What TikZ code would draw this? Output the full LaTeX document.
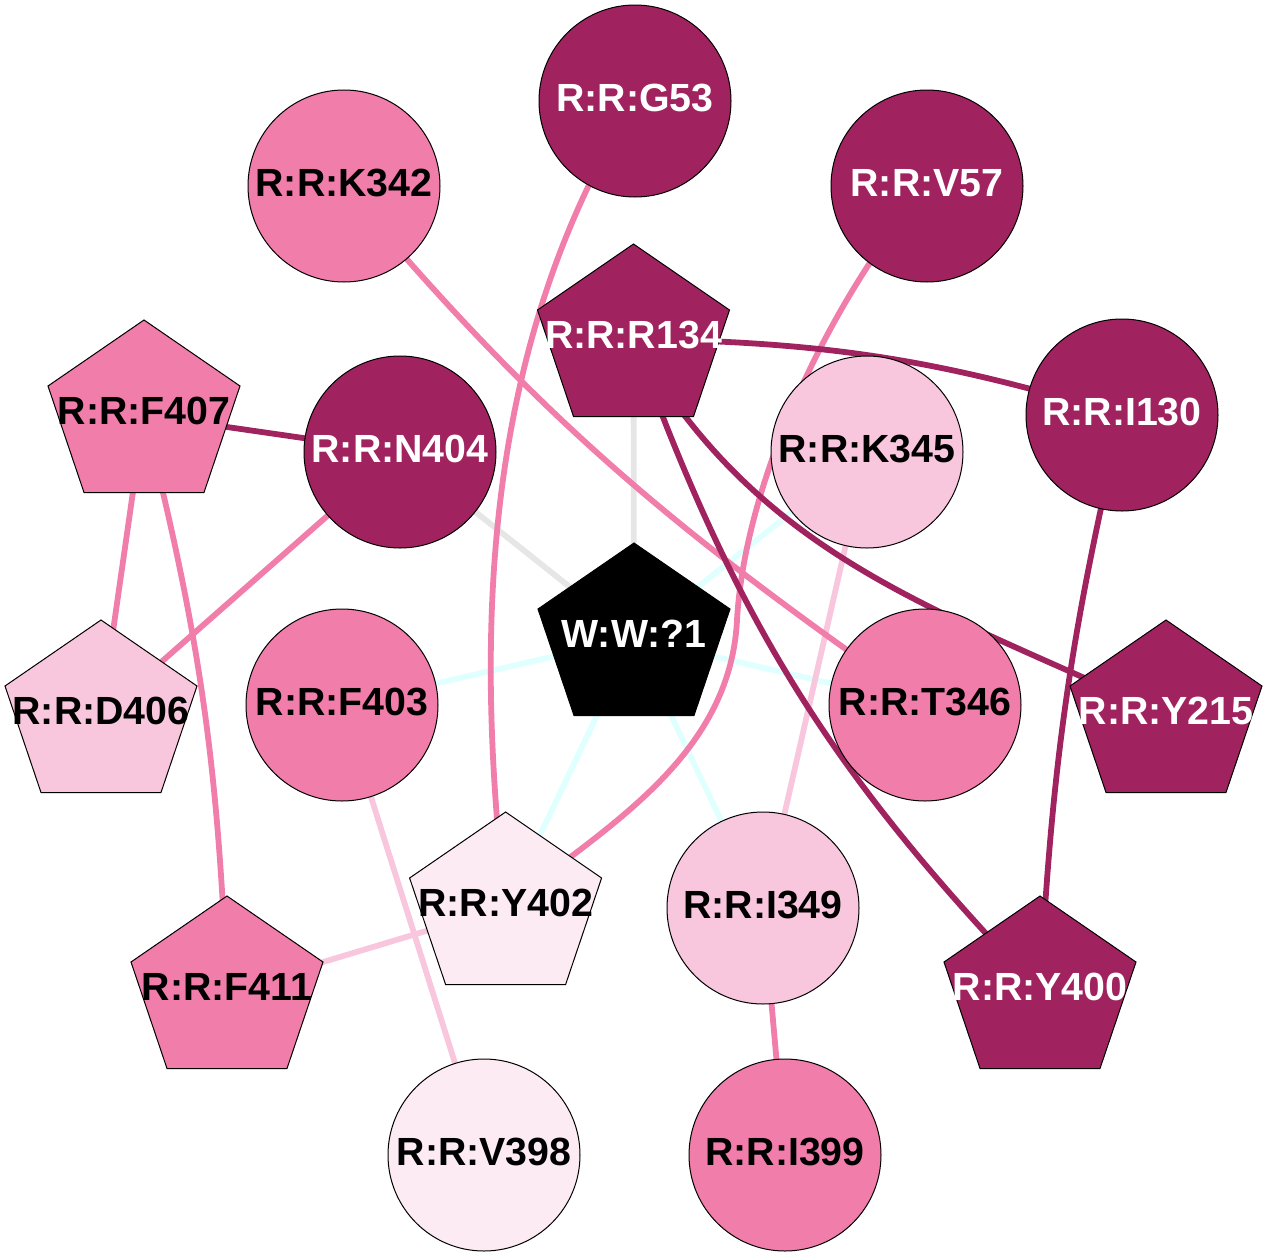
\documentclass[tikz,border=0pt]{standalone}
\usepackage{fontspec}
\setmainfont{Liberation Sans}
\pgfdeclarelayer{bg}
\pgfsetlayers{bg,main}
\definecolor{cdark}{RGB}{160,35,95}
\definecolor{cpink}{RGB}{240,125,170}
\definecolor{clight}{RGB}{249,199,221}
\definecolor{cvlight}{RGB}{252,235,243}
\definecolor{ccyan}{RGB}{224,255,255}
\definecolor{cgrey}{RGB}{230,230,230}
\tikzset{
  nodeline/.style={draw=black, line width=1pt},
  lbl/.style={inner sep=0pt, font=\fontsize{39.3}{47}\selectfont\bfseries},
  edgeline/.style={line width=5.8pt},
  edark/.style={edgeline, draw=cdark},
  epink/.style={edgeline, draw=cpink},
  elight/.style={edgeline, draw=clight},
  ecyan/.style={edgeline, draw=ccyan},
  egrey/.style={edgeline, draw=cgrey}
}
% name, x, y, fill, text colour, label
\newcommand\circnode[6]{%
  \draw[nodeline, fill=#4] (#2,#3) circle[radius=96];
  \coordinate (#1) at (#2,#3);
  \node[lbl, text=#5] (#1-t) at (#2,#3-3) {#6};}
\newcommand\pentnode[6]{%
  \draw[nodeline, fill=#4] (#2,#3-95) -- (#2+96,#3-29) -- (#2+60,#3+77.5)
     -- (#2-60,#3+77.5) -- (#2-96,#3-29) -- cycle;
  \coordinate (#1) at (#2,#3);
  \node[lbl, text=#5] (#1-t) at (#2,#3-4) {#6};}
\begin{document}
\begin{tikzpicture}[x=1pt,y=-1pt]
\useasboundingbox (0,0) rectangle (1267,1256);
\circnode{G53}{635}{101}{cdark}{white}{R:R:G53}
\circnode{K342}{344}{186}{cpink}{black}{R:R:K342}
\circnode{V57}{927}{186}{cdark}{white}{R:R:V57}
\circnode{N404}{400}{452}{cdark}{white}{R:R:N404}
\circnode{K345}{867}{452}{clight}{black}{R:R:K345}
\circnode{I130}{1122}{415}{cdark}{white}{R:R:I130}
\circnode{F403}{342}{705}{cpink}{black}{R:R:F403}
\circnode{T346}{925}{705}{cpink}{black}{R:R:T346}
\circnode{I349}{763}{908}{clight}{black}{R:R:I349}
\circnode{V398}{484}{1155}{cvlight}{black}{R:R:V398}
\circnode{I399}{785}{1155}{cpink}{black}{R:R:I399}
\pentnode{R134}{633.5}{339}{cdark}{white}{R:R:R134}
\pentnode{F407}{144}{415}{cpink}{black}{R:R:F407}
\pentnode{D406}{101}{715}{clight}{black}{R:R:D406}
\pentnode{Y215}{1166}{715}{cdark}{white}{R:R:Y215}
\pentnode{W}{634}{638}{black}{white}{W:W:?1}
\pentnode{Y402}{505.6}{907}{cvlight}{black}{R:R:Y402}
\pentnode{F411}{227}{991}{cpink}{black}{R:R:F411}
\pentnode{Y400}{1040}{991}{cdark}{white}{R:R:Y400}
\begin{pgfonlayer}{bg}
\draw[egrey] (R134) -- (W);
\draw[egrey] (N404) -- (W);
\draw[ecyan] (K345) -- (W);
\draw[ecyan] (W) -- (F403);
\draw[ecyan] (W) -- (T346);
\draw[ecyan] (W) -- (Y402);
\draw[ecyan] (W) -- (I349);
\draw[elight] (K345) -- (I349);
\draw[elight] (F403) -- (V398);
\draw[elight] (Y402) -- (F411);
\draw[epink] (I349) -- (I399);
\draw[epink] (F407) -- (D406);
\draw[epink] (N404) -- (D406);
\draw[epink] (F407) .. controls (200,636) and (218,763) .. (F411);
\draw[edark] (F407) -- (N404);
\draw[epink] (G53) .. controls (480,350) and (475,640) .. (Y402);
\draw[epink] (V57) .. controls (830,300) and (745,480) .. (737,620)
   .. controls (730,760) and (600,830) .. (Y402);
\draw[epink] (K342) .. controls (540,420) and (675,531) .. (T346);
\draw[edark] (R134) .. controls (827,342) and (937,359) .. (I130);
\draw[edark] (R134) .. controls (761,560) and (935,607) .. (Y215);
\draw[edark] (R134) .. controls (736,622) and (831,774) .. (Y400);
\draw[edark] (I130) .. controls (1070,637) and (1052,763) .. (Y400);
\end{pgfonlayer}
\end{tikzpicture}
\end{document}
